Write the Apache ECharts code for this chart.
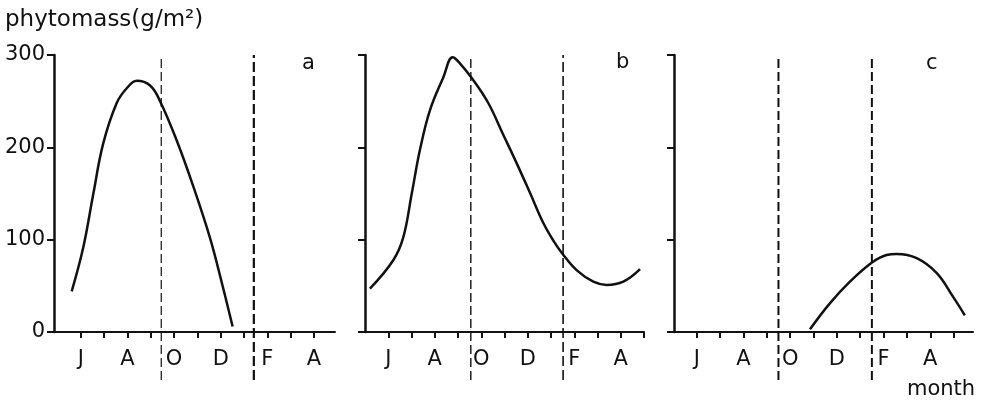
<!DOCTYPE html>
<html>
<head>
<meta charset="utf-8">
<script src="https://cdn.jsdelivr.net/npm/echarts@6/dist/echarts.min.js"></script>
<style>html,body{margin:0;padding:0;background:#fff}#c{width:983px;height:404px}</style>
</head>
<body>
<div id="c"></div>
<script>
// ---- data ----
const tickMonths = [6, 7, 8, 9, 10, 11, 12, 13, 14, 15, 16, 17];
const labelMonths = [6, 8, 10, 12, 14, 16];
const monthLetters = ['J', 'A', 'O', 'D', 'F', 'A'];
const yTicks = [0, 100, 200, 300];

const aMonth = [5.61, 6.11, 6.54, 6.96, 7.54, 7.97, 8.40, 8.97, 9.40, 10.15, 10.82, 11.54, 12.04, 12.51];
const aMass  = [44,   92,   150,  204,  248,  264,  272,  267,  250,  205,   158,   102,   54,    6];

const bMonth = [5.21, 6.22, 6.65, 7.01, 7.36, 7.79, 8.37, 8.77, 9.08, 9.59, 10.3, 10.9, 11.5, 12.09, 12.67, 13.1, 13.5, 14.1, 14.82, 15.39, 16.11, 16.83];
const bMass  = [47,   78,   103,  150,  197,  240,  276,  297.5, 291, 275,  248,  216,  184,  151,   118,   99,   84.5, 67,   54.5,  51,    54.5,  68];

const cMonth = [10.85, 11.7, 12.56, 13.49, 14.13, 14.56, 15.42, 16.27, 16.98, 17.48];
const cMass  = [3,     31,   54.5,  75,    83.4,  84.5,  80,    64,    38,    18];

const aDividers = [9.45, 13.42];
const bDividers = [9.55, 13.52];
const cDividers = [9.5, 13.5];
const dividerBottom = -52;

const panelNames = ['a', 'b', 'c'];

// ---- chart ----
const INK = '#111';
const FONT = 'DejaVu Sans';
const chart = echarts.init(document.getElementById('c'), null, {renderer: 'canvas'});

const grids = [
  {left: 50, top: 55, width: 285, height: 277},
  {left: 359, top: 55, width: 285, height: 277},
  {left: 668, top: 55, width: 305, height: 277}
];
const xRanges = [[4.68, 16.9], [4.74, 17.0], [4.77, 17.83]];
const yOffsets = [-4, -6, -6];

function zip(xs, ys) { return xs.map((x, i) => [x, ys[i]]); }

const xAxes = grids.map((g, i) => ({
  type: 'value', gridIndex: i, min: xRanges[i][0], max: xRanges[i][1],
  axisLine: {show: true, onZero: false, lineStyle: {color: INK, width: 2}},
  axisTick: {show: true, customValues: tickMonths, length: 6, lineStyle: {color: INK, width: 2}},
  axisLabel: {show: true, customValues: labelMonths, margin: 17, color: INK, fontFamily: FONT, fontSize: 21,
    formatter: v => monthLetters[labelMonths.indexOf(Math.round(v))] || ''},
  splitLine: {show: false}
}));
const yAxes = grids.map((g, i) => ({
  type: 'value', gridIndex: i, min: 0, max: 300, interval: 100, offset: yOffsets[i],
  axisLine: {show: true, lineStyle: {color: INK, width: 2.5}},
  axisTick: {show: true, length: 7, lineStyle: {color: INK, width: 2}},
  axisLabel: {show: i === 0, margin: 9, color: INK, fontFamily: FONT, fontSize: 21},
  splitLine: {show: false}
}));

const curves = [zip(aMonth, aMass), zip(bMonth, bMass), zip(cMonth, cMass)];
const dividers = [aDividers, bDividers, cDividers];
const dividerStyles = [
  [{width: 1.2, type: [9, 4]}, {width: 2.2, type: [10, 4]}],
  [{width: 1.4, type: [9, 4]}, {width: 1.6, type: [10, 4]}],
  [{width: 2, type: [9, 4]}, {width: 2, type: [9, 4]}]
];

const series = [];
curves.forEach((d, i) => {
  series.push({type: 'line', xAxisIndex: i, yAxisIndex: i, data: d, smooth: 0.4,
    showSymbol: false, symbol: 'none', lineStyle: {color: INK, width: 2.5}, silent: true, animation: false});
  dividers[i].forEach((m, k) => {
    series.push({type: 'line', xAxisIndex: i, yAxisIndex: i, data: [[m, dividerBottom], [m, 300]], clip: false,
      symbol: 'none', showSymbol: false, silent: true, animation: false,
      lineStyle: Object.assign({color: INK}, dividerStyles[i][k])});
  });
});

const letterPos = [[302, 53], [616, 52], [926, 53]];
const graphics = [
  {type: 'text', left: 5, top: 9, style: {text: 'phytomass(g/m²)', font: '23px "DejaVu Sans"', fill: INK}},
  {type: 'text', left: 907, top: 379, style: {text: 'month', font: '21px "DejaVu Sans"', fill: INK}}
];
panelNames.forEach((n, i) => graphics.push({type: 'text', left: letterPos[i][0], top: letterPos[i][1],
  style: {text: n, font: '21px "DejaVu Sans"', fill: INK}}));

chart.setOption({
  animation: false,
  backgroundColor: '#fff',
  grid: grids,
  xAxis: xAxes,
  yAxis: yAxes,
  series: series,
  graphic: graphics
});
</script>
</body>
</html>
